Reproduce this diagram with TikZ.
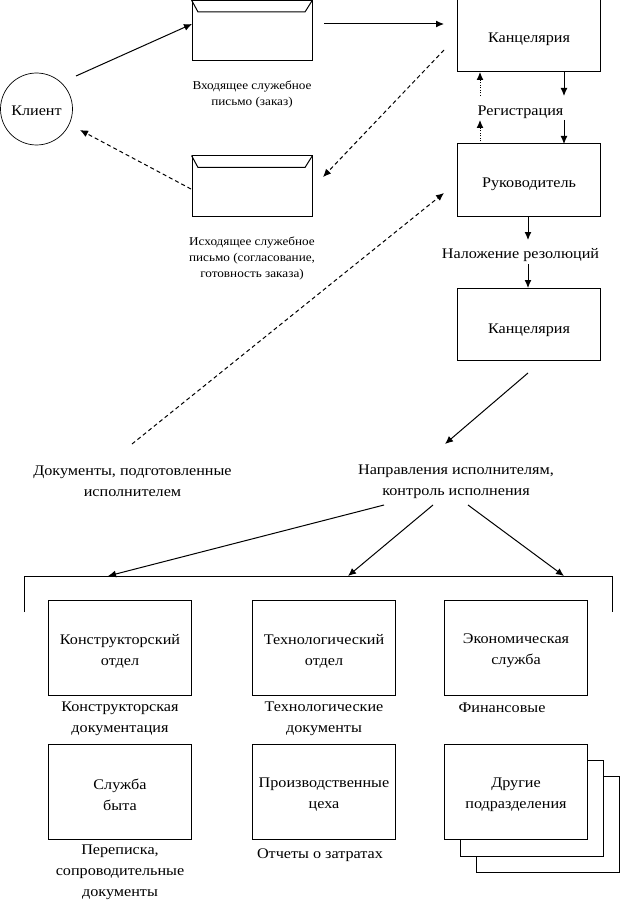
\documentclass[tikz,border=0pt]{standalone}
\usepackage{fontspec}
\setmainfont{Liberation Serif}
\newfontfamily\widefont[FakeStretch=1.1]{Liberation Serif}
\usetikzlibrary{arrows.meta}
\tikzset{
  x=1pt,y=-1pt,
  lbl/.style={inner sep=0pt,align=center,font=\widefont\fontsize{14.7}{21}\selectfont},
  box/.style={draw,line width=1pt,fill=white,minimum width=143pt,minimum height=95pt,inner sep=0pt},
  tall/.style={box,minimum height=72pt},
  boxtext/.style={label={[lbl,yshift=-3pt]center:{#1}}},
  talltext/.style 2 args={label={[lbl,yshift=#2]center:{#1}}},
  small/.style={inner sep=0pt,align=center,font=\widefont\fontsize{12}{16.3}\selectfont},
  env/.style={draw,line width=1pt,minimum width=120pt,minimum height=60pt,inner sep=0pt},
  conn/.style={line width=1pt,-{Latex[length=8pt,width=7pt]}},
  dconn/.style={conn,dash pattern=on 4pt off 3pt},
  pconn/.style={conn,dash pattern=on 1pt off 1.5pt},
  plain/.style={line width=1pt}
}
\begin{document}
\begin{tikzpicture}
\useasboundingbox (0,0) rectangle (621,912);
\fill[white] (0,0) rectangle (621,912);
% client
\node[draw,circle,line width=.7pt,minimum size=72pt,inner sep=0pt,talltext={Клиент}{-1.5pt}] (client) at (36.5,109) {};
% envelopes
\node[env] (env1) at (252,30.5) {};
\draw[line width=1pt] (env1.north west) -- ++(6.5,12) -- ++(107,0) -- (env1.north east);
\node[env] (env2) at (252,186) {};
\draw[line width=1pt] (env2.north west) -- ++(6.5,12) -- ++(107,0) -- (env2.north east);
\node[small] (t1) at (252,94.5) {Входящее служебное\\письмо (заказ)};
\node[small] (t2) at (252,258.5) {Исходящее служебное\\письмо (согласование,\\готовность заказа)};
% right column
\node[tall,talltext={Канцелярия}{-3pt}] (k1) at (529,36) {};
\node[tall,talltext={Руководитель}{-4pt}] (ruk) at (529,180) {};
\node[tall,talltext={Канцелярия}{-6pt}] (k2) at (529,324.5) {};
\node[lbl] (reg) at (520.5,112) {Регистрация};
\node[lbl] (nal) at (520.5,255) {Наложение резолюций};
% middle texts
\node[lbl] (docs) at (132.5,481.5) {Документы, подготовленные\\исполнителем};
\node[lbl] (napr) at (456,481.5) {Направления исполнителям,\\контроль исполнения};
% departments
\node[box,boxtext={Конструкторский\\отдел}] (d1) at (120,648) {};
\node[box,boxtext={Технологический\\отдел}] (d2) at (324,648) {};
\node[box,boxtext={Экономическая\\служба}] (d3) at (516,648) {};
\node[lbl] (c1) at (120,718.5) {Конструкторская\\документация};
\node[lbl] (c2) at (324,718.5) {Технологические\\документы};
\node[lbl] (c3) at (502,708) {Финансовые};
\node[box,boxtext={Служба\\быта}] (d4) at (120,792) {};
\node[box,boxtext={Производственные\\цеха}] (d5) at (324,792) {};
\draw[line width=1pt] (476,776) rectangle (619,872);
\draw[line width=1pt,fill=white] (460,760) rectangle (603,856);
\node[box,boxtext={Другие\\подразделения}] (d6) at (516,792) {};
\node[lbl] (c4) at (120,872.5) {Переписка,\\сопроводительные\\документы};
\node[lbl] (c5) at (320,855.5) {Отчеты о затратах};
% bracket
\coordinate (bl) at (24,612);
\coordinate (blt) at (24,576);
\coordinate (brt) at (612,576);
\coordinate (br) at (612,612);
\draw[plain] (bl) -- (blt) -- (brt) -- (br);
% connectors
\coordinate (a1s) at (76,76);
\coordinate (a1e) at (192,24);
\draw[conn] (a1s) -- (a1e);
\coordinate (a2s) at (324,24);
\coordinate (a2e) at (444,24);
\draw[conn] (a2s) -- (a2e);
\coordinate (a3s) at (444,50);
\coordinate (a3e) at (323,177);
\draw[dconn] (a3s) -- (a3e);
\coordinate (a4s) at (191,189);
\coordinate (a4e) at (80,130);
\draw[dconn] (a4s) -- (a4e);
\coordinate (a5s) at (132,444);
\coordinate (a5e) at (444,193);
\draw[dconn] (a5s) -- (a5e);
\coordinate (a6s) at (564,72);
\coordinate (a6e) at (564,96);
\draw[conn] (a6s) -- (a6e);
\coordinate (a7s) at (564,120);
\coordinate (a7e) at (564,144);
\draw[conn] (a7s) -- (a7e);
\coordinate (a8s) at (480,144);
\coordinate (a8e) at (480,120);
\draw[pconn] (a8s) -- (a8e);
\coordinate (a9s) at (480,96);
\coordinate (a9e) at (480,72);
\draw[pconn] (a9s) -- (a9e);
\coordinate (a10s) at (528,216);
\coordinate (a10e) at (528,240);
\draw[conn] (a10s) -- (a10e);
\coordinate (a11s) at (528,264);
\coordinate (a11e) at (528,288);
\draw[conn] (a11s) -- (a11e);
\coordinate (a12s) at (528,373);
\coordinate (a12e) at (445,444);
\draw[conn] (a12s) -- (a12e);
\coordinate (a13s) at (384,505);
\coordinate (a13e) at (108,576);
\draw[conn] (a13s) -- (a13e);
\coordinate (a14s) at (433,505);
\coordinate (a14e) at (348,576);
\draw[conn] (a14s) -- (a14e);
\coordinate (a15s) at (468,505);
\coordinate (a15e) at (564,576);
\draw[conn] (a15s) -- (a15e);
\end{tikzpicture}
\end{document}
